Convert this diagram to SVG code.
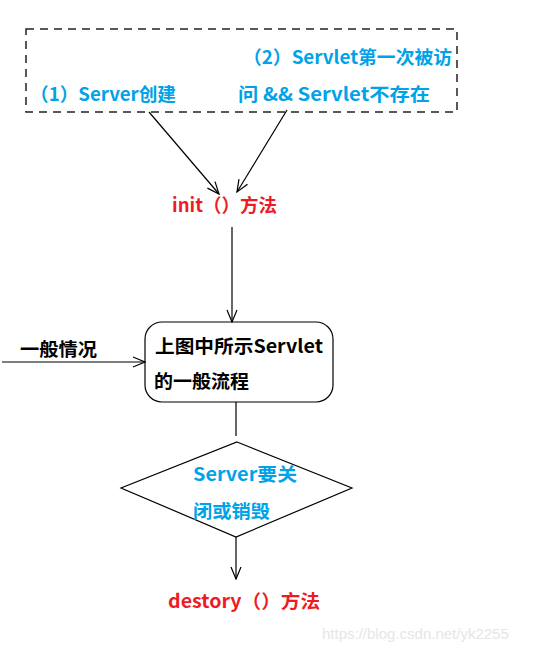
<svg xmlns="http://www.w3.org/2000/svg" width="533" height="653" viewBox="0 0 533 653">
<style>
.t{font-family:"Noto Sans CJK SC","Liberation Sans",sans-serif;font-weight:bold;font-size:18.5px}
.blue{fill:#00a2e8}
.red{fill:#ed1c24}
.blk{fill:#000}
.ln{stroke:#000;stroke-width:1.2;fill:none}
.wm{font-family:"Liberation Sans",Arial,sans-serif;font-size:15px;fill:#e6e6e6}
</style>
<defs>
<marker id="ah" viewBox="0 0 14 12" refX="13" refY="6" markerWidth="14" markerHeight="12" markerUnits="userSpaceOnUse" orient="auto">
<path d="M1,1 L13,6 L1,11" fill="none" stroke="#000" stroke-width="1.2"/>
</marker>
</defs>
<rect width="533" height="653" fill="#fff"/>
<g id="group-box">
<rect x="26" y="29" width="431" height="83" fill="none" stroke="#222" stroke-width="1.5" stroke-dasharray="8,6"/>
<text class="t blue" x="243" y="64" textLength="209" lengthAdjust="spacingAndGlyphs">（2）Servlet第一次被访</text>
<text class="t blue" x="238" y="101" textLength="192" lengthAdjust="spacingAndGlyphs">问 &amp;&amp; Servlet不存在</text>
<text class="t blue" x="30" y="101" textLength="146" lengthAdjust="spacingAndGlyphs">（1）Server创建</text>
</g>
<g id="init">
<text class="t red" x="172" y="212" textLength="105" lengthAdjust="spacingAndGlyphs">init（）方法</text>
</g>
<g id="flow-box">
<rect x="145" y="322" width="188" height="80" rx="17" ry="17" fill="none" stroke="#000" stroke-width="1.2"/>
<text class="t blk" x="155" y="353" textLength="168" lengthAdjust="spacingAndGlyphs">上图中所示Servlet</text>
<text class="t blk" x="154" y="388" textLength="95" lengthAdjust="spacingAndGlyphs">的一般流程</text>
</g>
<g id="general-label">
<text class="t blk" x="20" y="356" textLength="77" lengthAdjust="spacingAndGlyphs">一般情况</text>
</g>
<g id="decision">
<polygon points="237,442 352,488 236,537 121,488" fill="none" stroke="#000" stroke-width="1.2"/>
<text class="t blue" x="193" y="481" textLength="104" lengthAdjust="spacingAndGlyphs">Server要关</text>
<text class="t blue" x="193" y="518" textLength="77" lengthAdjust="spacingAndGlyphs">闭或销毁</text>
</g>
<g id="destroy">
<text class="t red" x="168" y="608" textLength="152" lengthAdjust="spacingAndGlyphs">destory（）方法</text>
</g>
<g id="connectors">
<line class="ln" x1="149" y1="112" x2="219" y2="194" marker-end="url(#ah)"/>
<line class="ln" x1="287" y1="110" x2="237" y2="192" marker-end="url(#ah)"/>
<line class="ln" x1="232" y1="227" x2="232" y2="322" marker-end="url(#ah)"/>
<line class="ln" x1="2" y1="362" x2="145" y2="362" marker-end="url(#ah)"/>
<line class="ln" x1="236" y1="402" x2="236" y2="436"/>
<line class="ln" x1="236" y1="537" x2="236" y2="579" marker-end="url(#ah)"/>
</g>
<text class="wm" x="322" y="639">https://blog.csdn.net/yk2255</text>
</svg>
